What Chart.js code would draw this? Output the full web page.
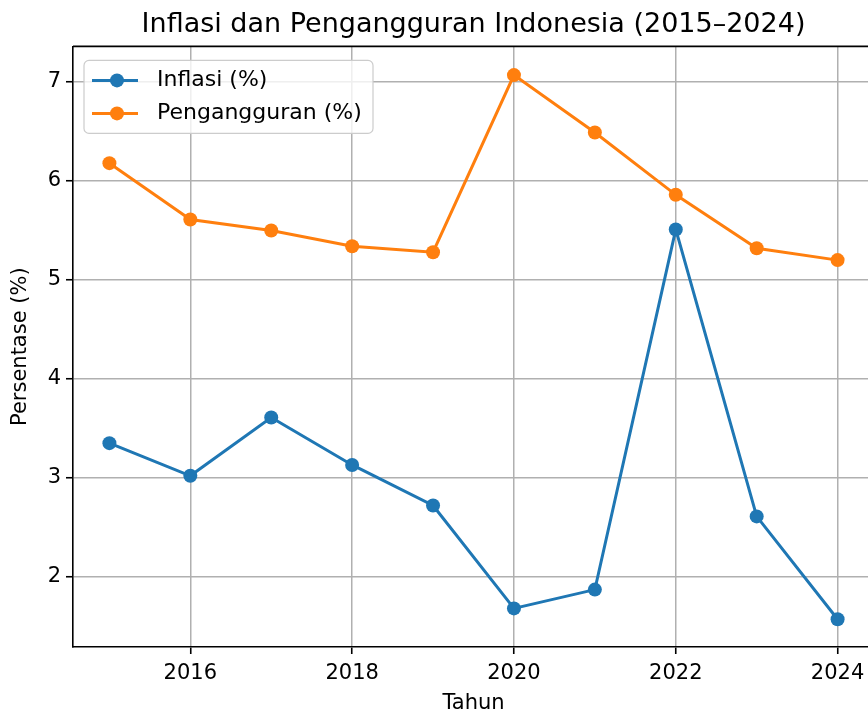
<!DOCTYPE html>
<html lang="id">
<head>
  <meta charset="UTF-8" />
  <title>Inflasi dan Pengangguran Indonesia (2015–2024)</title>
  <script src="https://cdn.jsdelivr.net/npm/chart.js"></script>
  <style>
    html, body {
      margin: 0;
      padding: 0;
      background: #fff;
      overflow: hidden;
    }
    #chart-container {
      width: 900px;
      height: 714px;
    }
  </style>
</head>
<body>
  <div id="chart-container">
    <canvas id="mainChart" width="900" height="714"></canvas>
  </div>

  <script>
    // Data
    const tahun = [2015, 2016, 2017, 2018, 2019, 2020, 2021, 2022, 2023, 2024];
    const inflasi = [3.35, 3.02, 3.61, 3.13, 2.72, 1.68, 1.87, 5.51, 2.61, 1.57];
    const pengangguran = [6.18, 5.61, 5.50, 5.34, 5.28, 7.07, 6.49, 5.86, 5.32, 5.20];
    const xTicks = [2016, 2018, 2020, 2022, 2024];
    const yTicks = [2, 3, 4, 5, 6, 7];

    const FONT = "'DejaVu Sans', sans-serif";
    const blue = "#1f77b4";
    const orange = "#ff7f0e";

    // Bingkai atas/kanan (spine) seperti matplotlib
    const framePlugin = {
      id: "frame",
      afterDraw(chart) {
        const { ctx, chartArea: a } = chart;
        ctx.save();
        ctx.strokeStyle = "#000";
        ctx.lineWidth = 1.6;
        ctx.beginPath();
        ctx.moveTo(a.left, a.top);
        ctx.lineTo(a.right, a.top);
        ctx.lineTo(a.right, a.bottom);
        ctx.stroke();
        ctx.restore();
      }
    };

    // Legenda di dalam area grafik (kiri atas)
    const legendPlugin = {
      id: "innerLegend",
      afterDraw(chart) {
        const { ctx, chartArea: a } = chart;
        const x = a.left + 11, y = a.top + 14, w = 289, h = 73;
        ctx.save();
        ctx.beginPath();
        ctx.roundRect(x, y, w, h, 5);
        ctx.fillStyle = "rgba(255,255,255,0.8)";
        ctx.fill();
        ctx.strokeStyle = "#cccccc";
        ctx.lineWidth = 1.2;
        ctx.stroke();
        chart.data.datasets.forEach((ds, i) => {
          const ry = y + 20 + i * 33;
          ctx.strokeStyle = ds.borderColor;
          ctx.lineWidth = 3;
          ctx.beginPath();
          ctx.moveTo(x + 8, ry);
          ctx.lineTo(x + 54, ry);
          ctx.stroke();
          ctx.fillStyle = ds.backgroundColor;
          ctx.beginPath();
          ctx.arc(x + 33, ry, 7, 0, Math.PI * 2);
          ctx.fill();
          ctx.fillStyle = "#000";
          ctx.font = "22px " + FONT;
          ctx.textBaseline = "middle";
          ctx.textAlign = "left";
          ctx.fillText(ds.label, x + 73, ry);
        });
        ctx.restore();
      }
    };

    new Chart(document.getElementById("mainChart"), {
      type: "line",
      data: {
        datasets: [
          {
            label: "Inflasi (%)",
            data: tahun.map((t, i) => ({ x: t, y: inflasi[i] })),
            borderColor: blue,
            backgroundColor: blue,
            borderWidth: 3,
            pointRadius: 7,
            pointHoverRadius: 7,
            pointBorderWidth: 0,
            tension: 0
          },
          {
            label: "Pengangguran (%)",
            data: tahun.map((t, i) => ({ x: t, y: pengangguran[i] })),
            borderColor: orange,
            backgroundColor: orange,
            borderWidth: 3,
            pointRadius: 7,
            pointHoverRadius: 7,
            pointBorderWidth: 0,
            tension: 0
          }
        ]
      },
      options: {
        responsive: false,
        animation: false,
        devicePixelRatio: 1,
        layout: { padding: { left: 0, right: 26, top: 0, bottom: 0 } },
        scales: {
          x: {
            type: "linear",
            min: 2014.55,
            max: 2024.45,
            afterBuildTicks: (axis) => { axis.ticks = xTicks.map(v => ({ value: v })); },
            afterFit: (axis) => { axis.height = 67; },
            ticks: {
              color: "#000",
              font: { family: FONT, size: 21 },
              padding: 7,
              maxRotation: 0,
              callback: (v) => String(v)
            },
            grid: {
              color: "#b0b0b0",
              lineWidth: 1.5,
              tickColor: "#000",
              tickLength: 7,
              tickWidth: 1.6
            },
            border: { display: true, color: "#000", width: 1.6 },
            title: {
              display: true,
              text: "Tahun",
              color: "#000",
              font: { family: FONT, size: 21, lineHeight: 1 },
              padding: { top: 0, bottom: 0 }
            }
          },
          y: {
            min: 1.29,
            max: 7.36,
            afterBuildTicks: (axis) => { axis.ticks = yTicks.map(v => ({ value: v })); },
            afterFit: (axis) => { axis.width = 73; },
            ticks: {
              color: "#000",
              font: { family: FONT, size: 21 },
              padding: 5
            },
            grid: {
              color: "#b0b0b0",
              lineWidth: 1.5,
              tickColor: "#000",
              tickLength: 7,
              tickWidth: 1.6
            },
            border: { display: true, color: "#000", width: 1.6 },
            title: {
              display: true,
              text: "Persentase (%)",
              color: "#000",
              font: { family: FONT, size: 21 },
              padding: { top: 8, bottom: 0 }
            }
          }
        },
        plugins: {
          legend: { display: false },
          tooltip: { enabled: false },
          title: {
            display: true,
            text: "Inflasi dan Pengangguran Indonesia (2015–2024)",
            color: "#000",
            fullSize: false,
            font: { family: FONT, size: 27, weight: "normal" },
            padding: { top: 9, bottom: 5 }
          }
        }
      },
      plugins: [framePlugin, legendPlugin]
    });
  </script>
</body>
</html>
